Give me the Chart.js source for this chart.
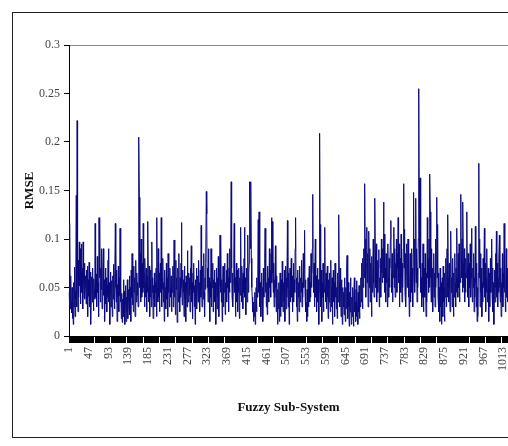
<!DOCTYPE html>
<html>
<head>
<meta charset="utf-8">
<script src="https://cdn.jsdelivr.net/npm/chart.js@4/dist/chart.umd.min.js"></script>
<style>
  html, body { margin: 0; padding: 0; background: #fff; overflow: hidden; }
  #wrap { position: relative; width: 508px; height: 446px; }
  #frame { position: absolute; left: 12px; top: 12px; width: 600px; height: 426px;
           border: 1px solid #222; box-sizing: border-box; }
  canvas { position: absolute; left: 0; top: 0; }
</style>
</head>
<body>
<div id="wrap">
  <div id="frame"></div>
  <canvas id="chart" width="508" height="446"></canvas>
</div>
<script>
// RMSE of each fuzzy sub-system
const rmse = [
  0.045, 0.03, 0.116, 0.028, 0.062, 0.035, 0.024, 0.05, 0.018, 0.04, 0.012, 0.055, 0.03, 0.071, 0.02, 0.046, 0.038, 0.145, 0.03, 0.222,
  0.06, 0.025, 0.078, 0.04, 0.097, 0.052, 0.09, 0.033, 0.065, 0.095, 0.045, 0.07, 0.028, 0.097, 0.055, 0.04, 0.075, 0.038, 0.062, 0.05,
  0.033, 0.068, 0.045, 0.072, 0.02, 0.058, 0.041, 0.076, 0.03, 0.053, 0.066, 0.012, 0.048, 0.061, 0.035, 0.07, 0.043, 0.026, 0.059, 0.047,
  0.038, 0.116, 0.04, 0.064, 0.052, 0.03, 0.082, 0.045, 0.055, 0.02, 0.122, 0.06, 0.12, 0.035, 0.07, 0.048, 0.09, 0.028, 0.05, 0.065,
  0.09, 0.042, 0.058, 0.015, 0.047, 0.07, 0.033, 0.06, 0.025, 0.052, 0.04, 0.078, 0.09, 0.035, 0.055, 0.012, 0.044, 0.066, 0.03, 0.057,
  0.049, 0.02, 0.062, 0.038, 0.074, 0.045, 0.028, 0.058, 0.116, 0.05, 0.035, 0.068, 0.015, 0.053, 0.04, 0.072, 0.025, 0.06, 0.042, 0.111,
  0.035, 0.05, 0.018, 0.044, 0.014, 0.038, 0.028, 0.058, 0.02, 0.046, 0.012, 0.033, 0.052, 0.015, 0.04, 0.025, 0.058, 0.018, 0.036, 0.048,
  0.03, 0.062, 0.022, 0.05, 0.015, 0.068, 0.04, 0.085, 0.032, 0.055, 0.025, 0.072, 0.045, 0.06, 0.02, 0.05, 0.078, 0.035, 0.065, 0.042,
  0.055, 0.03, 0.07, 0.205, 0.143, 0.05, 0.085, 0.035, 0.1, 0.06, 0.04, 0.075, 0.045, 0.116, 0.05, 0.065, 0.03, 0.08, 0.055, 0.04,
  0.07, 0.025, 0.062, 0.045, 0.118, 0.05, 0.035, 0.072, 0.02, 0.058, 0.04, 0.068, 0.03, 0.097, 0.045, 0.06, 0.018, 0.052, 0.038, 0.065,
  0.03, 0.055, 0.045, 0.07, 0.02, 0.122, 0.05, 0.035, 0.09, 0.04, 0.065, 0.025, 0.058, 0.075, 0.045, 0.122, 0.03, 0.06, 0.048, 0.08,
  0.035, 0.055, 0.015, 0.068, 0.042, 0.05, 0.028, 0.075, 0.038, 0.06, 0.02, 0.085, 0.045, 0.055, 0.03, 0.07, 0.05, 0.04, 0.062, 0.025,
  0.058, 0.045, 0.072, 0.03, 0.065, 0.099, 0.04, 0.055, 0.022, 0.078, 0.048, 0.06, 0.014, 0.052, 0.07, 0.035, 0.085, 0.045, 0.025, 0.06,
  0.04, 0.075, 0.117, 0.05, 0.032, 0.068, 0.045, 0.058, 0.02, 0.072, 0.038, 0.055, 0.015, 0.062, 0.048, 0.03, 0.088, 0.05, 0.035, 0.065,
  0.042, 0.06, 0.025, 0.07, 0.048, 0.093, 0.035, 0.055, 0.018, 0.065, 0.045, 0.075, 0.03, 0.052, 0.012, 0.058, 0.04, 0.07, 0.028, 0.05,
  0.062, 0.035, 0.078, 0.045, 0.055, 0.025, 0.068, 0.04, 0.114, 0.05, 0.03, 0.072, 0.058, 0.038, 0.085, 0.045, 0.02, 0.06, 0.048, 0.075,
  0.149, 0.126, 0.05, 0.07, 0.035, 0.09, 0.045, 0.06, 0.015, 0.055, 0.04, 0.09, 0.03, 0.065, 0.05, 0.075, 0.025, 0.058, 0.042, 0.068,
  0.035, 0.055, 0.012, 0.048, 0.07, 0.028, 0.06, 0.04, 0.082, 0.02, 0.052, 0.065, 0.104, 0.045, 0.098, 0.035, 0.058, 0.015, 0.05, 0.072,
  0.03, 0.062, 0.045, 0.075, 0.022, 0.055, 0.04, 0.068, 0.035, 0.085, 0.05, 0.06, 0.025, 0.07, 0.045, 0.09, 0.055, 0.1, 0.159, 0.07,
  0.04, 0.065, 0.03, 0.058, 0.08, 0.116, 0.045, 0.06, 0.02, 0.052, 0.075, 0.035, 0.068, 0.025, 0.055, 0.045, 0.07, 0.018, 0.06, 0.042,
  0.112, 0.05, 0.035, 0.072, 0.058, 0.028, 0.065, 0.045, 0.08, 0.112, 0.04, 0.06, 0.022, 0.055, 0.07, 0.035, 0.05, 0.104, 0.045, 0.065,
  0.075, 0.159, 0.104, 0.09, 0.159, 0.08, 0.05, 0.04, 0.025, 0.03, 0.015, 0.035, 0.02, 0.045, 0.012, 0.03, 0.05, 0.025, 0.06, 0.04,
  0.07, 0.12, 0.045, 0.128, 0.06, 0.03, 0.055, 0.02, 0.048, 0.065, 0.035, 0.05, 0.015, 0.07, 0.04, 0.058, 0.08, 0.111, 0.045, 0.06,
  0.03, 0.055, 0.022, 0.072, 0.045, 0.06, 0.035, 0.09, 0.05, 0.068, 0.04, 0.085, 0.122, 0.055, 0.118, 0.065, 0.045, 0.075, 0.03, 0.058,
  0.04, 0.093, 0.05, 0.025, 0.062, 0.035, 0.012, 0.048, 0.028, 0.055, 0.015, 0.042, 0.065, 0.02, 0.038, 0.058, 0.03, 0.077, 0.045, 0.025,
  0.055, 0.035, 0.068, 0.015, 0.045, 0.072, 0.028, 0.06, 0.04, 0.119, 0.05, 0.03, 0.065, 0.012, 0.048, 0.07, 0.035, 0.055, 0.08, 0.04,
  0.062, 0.025, 0.05, 0.075, 0.035, 0.058, 0.045, 0.09, 0.122, 0.06, 0.03, 0.052, 0.015, 0.068, 0.04, 0.055, 0.025, 0.072, 0.048, 0.035,
  0.06, 0.045, 0.078, 0.03, 0.055, 0.04, 0.085, 0.05, 0.07, 0.109, 0.045, 0.058, 0.025, 0.035, 0.015, 0.048, 0.02, 0.06, 0.03, 0.05,
  0.072, 0.035, 0.055, 0.04, 0.085, 0.05, 0.065, 0.09, 0.146, 0.06, 0.045, 0.075, 0.03, 0.058, 0.1, 0.04, 0.062, 0.025, 0.05, 0.07,
  0.035, 0.058, 0.012, 0.045, 0.209, 0.115, 0.05, 0.03, 0.068, 0.015, 0.055, 0.04, 0.075, 0.025, 0.06, 0.045, 0.112, 0.05, 0.035, 0.065,
  0.028, 0.05, 0.072, 0.04, 0.018, 0.058, 0.035, 0.065, 0.045, 0.025, 0.078, 0.05, 0.03, 0.06, 0.012, 0.042, 0.068, 0.035, 0.055, 0.02,
  0.075, 0.04, 0.06, 0.028, 0.05, 0.018, 0.065, 0.035, 0.082, 0.125, 0.055, 0.03, 0.07, 0.045, 0.02, 0.058, 0.038, 0.012, 0.05, 0.03,
  0.045, 0.022, 0.06, 0.035, 0.015, 0.05, 0.028, 0.068, 0.083, 0.04, 0.018, 0.055, 0.03, 0.01, 0.045, 0.025, 0.06, 0.035, 0.012, 0.04,
  0.02, 0.05, 0.03, 0.01, 0.042, 0.06, 0.025, 0.035, 0.015, 0.048, 0.02, 0.057, 0.03, 0.012, 0.045, 0.025, 0.052, 0.018, 0.04, 0.03,
  0.06, 0.035, 0.075, 0.045, 0.028, 0.08, 0.05, 0.09, 0.06, 0.157, 0.1, 0.065, 0.04, 0.075, 0.112, 0.055, 0.085, 0.03, 0.07, 0.108,
  0.05, 0.09, 0.035, 0.075, 0.06, 0.02, 0.082, 0.045, 0.068, 0.1, 0.055, 0.04, 0.07, 0.142, 0.085, 0.05, 0.095, 0.035, 0.065, 0.078,
  0.045, 0.07, 0.089, 0.03, 0.06, 0.05, 0.08, 0.04, 0.1, 0.065, 0.055, 0.09, 0.075, 0.138, 0.06, 0.105, 0.045, 0.07, 0.035, 0.085,
  0.055, 0.075, 0.03, 0.095, 0.06, 0.04, 0.08, 0.05, 0.07, 0.1, 0.119, 0.065, 0.045, 0.085, 0.035, 0.075, 0.06, 0.112, 0.05, 0.09,
  0.04, 0.075, 0.06, 0.1, 0.045, 0.085, 0.07, 0.122, 0.055, 0.095, 0.03, 0.068, 0.08, 0.045, 0.105, 0.06, 0.035, 0.075, 0.05, 0.09,
  0.157, 0.07, 0.11, 0.045, 0.085, 0.03, 0.065, 0.095, 0.05, 0.075, 0.1, 0.04, 0.068, 0.02, 0.055, 0.085, 0.035, 0.06, 0.09, 0.045,
  0.07, 0.03, 0.085, 0.148, 0.06, 0.1, 0.045, 0.075, 0.142, 0.055, 0.09, 0.035, 0.07, 0.05, 0.1, 0.255, 0.162, 0.07, 0.163, 0.085,
  0.045, 0.06, 0.03, 0.075, 0.04, 0.095, 0.025, 0.055, 0.07, 0.04, 0.085, 0.05, 0.02, 0.065, 0.035, 0.122, 0.06, 0.08, 0.045, 0.1,
  0.05, 0.167, 0.128, 0.06, 0.035, 0.09, 0.045, 0.07, 0.025, 0.055, 0.085, 0.04, 0.065, 0.03, 0.1, 0.05, 0.075, 0.143, 0.06, 0.115,
  0.04, 0.065, 0.025, 0.05, 0.015, 0.07, 0.03, 0.055, 0.012, 0.045, 0.06, 0.02, 0.072, 0.035, 0.05, 0.015, 0.065, 0.04, 0.08, 0.03,
  0.055, 0.09, 0.04, 0.125, 0.06, 0.035, 0.075, 0.05, 0.025, 0.07, 0.108, 0.045, 0.06, 0.03, 0.08, 0.05, 0.02, 0.065, 0.04, 0.085,
  0.055, 0.03, 0.07, 0.045, 0.111, 0.06, 0.04, 0.085, 0.05, 0.095, 0.035, 0.07, 0.055, 0.146, 0.08, 0.06, 0.1, 0.045, 0.138, 0.075,
  0.05, 0.09, 0.035, 0.065, 0.045, 0.08, 0.06, 0.128, 0.07, 0.04, 0.085, 0.055, 0.03, 0.075, 0.05, 0.095, 0.04, 0.065, 0.111, 0.06,
  0.035, 0.07, 0.05, 0.085, 0.025, 0.06, 0.04, 0.113, 0.055, 0.03, 0.075, 0.015, 0.05, 0.02, 0.065, 0.178, 0.06, 0.1, 0.03, 0.085,
  0.045, 0.07, 0.02, 0.055, 0.035, 0.08, 0.05, 0.065, 0.111, 0.04, 0.075, 0.025, 0.06, 0.045, 0.09, 0.035, 0.055, 0.07, 0.015, 0.05,
  0.065, 0.03, 0.08, 0.045, 0.06, 0.1, 0.04, 0.07, 0.025, 0.055, 0.012, 0.045, 0.068, 0.035, 0.085, 0.05, 0.108, 0.04, 0.075, 0.03,
  0.06, 0.045, 0.08, 0.104, 0.05, 0.035, 0.07, 0.02, 0.055, 0.04, 0.085, 0.03, 0.065, 0.05, 0.116, 0.045, 0.075, 0.025, 0.06, 0.09,
  0.04, 0.07, 0.035, 0.055
];

// sub-system numbers 1..N on the category axis
const subSystems = rmse.map((v, i) => String(i + 1));

// tick labels shown on the axes
const xTickLabels = ["1", "47", "93", "139", "185", "231", "277", "323", "369", "415", "461", "507",
  "553", "599", "645", "691", "737", "783", "829", "875", "921", "967", "1013"];
const yTicks = [0, 0.05, 0.1, 0.15, 0.2, 0.25, 0.3];

const serif = "'Liberation Serif', 'Times New Roman', serif";

new Chart(document.getElementById("chart"), {
  type: "line",
  data: {
    labels: subSystems,
    datasets: [{
      data: rmse,
      borderColor: "#0b0b7d",
      borderWidth: 1,
      pointRadius: 0,
      tension: 0,
      fill: false
    }]
  },
  options: {
    responsive: false,
    animation: false,
    devicePixelRatio: 1,
    layout: { padding: { top: 45, right: 0, bottom: 0, left: 0 } },
    plugins: { legend: { display: false }, tooltip: { enabled: false } },
    scales: {
      x: {
        type: "category",
        offset: false,
        border: { color: "#000", width: 1 },
        grid: {
          drawOnChartArea: false,
          drawTicks: true,
          tickLength: 7,
          lineWidth: 1,
          // dense tick marks make the black bar, with small white gaps
          tickColor: ctx => ((ctx.index - 21) % 38 + 38) % 38 < 2 ? "#fff" : "#000"
        },
        ticks: {
          autoSkip: false,
          maxRotation: 90,
          minRotation: 90,
          padding: 4,
          color: "#444",
          font: { family: serif, size: 12 },
          callback: function (value) {
            const lab = this.getLabelForValue(value);
            return xTickLabels.includes(lab) ? lab : "";
          }
        },
        title: {
          display: true,
          text: "Fuzzy Sub-System",
          color: "#111",
          font: { family: serif, size: 13, weight: "bold" },
          padding: { top: 0, bottom: 31 }
        },
        afterFit: scale => { scale.height = 110; scale.paddingRight = 0; scale.paddingLeft = 0; }
      },
      y: {
        min: 0,
        max: 0.3,
        border: { color: "#000", width: 1 },
        grid: {
          drawOnChartArea: true,
          drawTicks: true,
          tickLength: 5,
          tickColor: "#000",
          color: ctx => ctx.tick && ctx.tick.value === 0.3 ? "#888" : "rgba(0,0,0,0)"
        },
        afterBuildTicks: scale => { scale.ticks = yTicks.map(v => ({ value: v })); },
        ticks: {
          padding: 4,
          color: "#444",
          font: { family: serif, size: 12 },
          callback: v => String(v)
        },
        title: {
          display: true,
          text: "RMSE",
          color: "#111",
          font: { family: serif, size: 13, weight: "bold" },
          padding: { top: 22, bottom: 0 }
        },
        afterFit: scale => { scale.width = 69; scale.paddingTop = 0; scale.paddingBottom = 0; }
      }
    }
  }
});
</script>
</body>
</html>
